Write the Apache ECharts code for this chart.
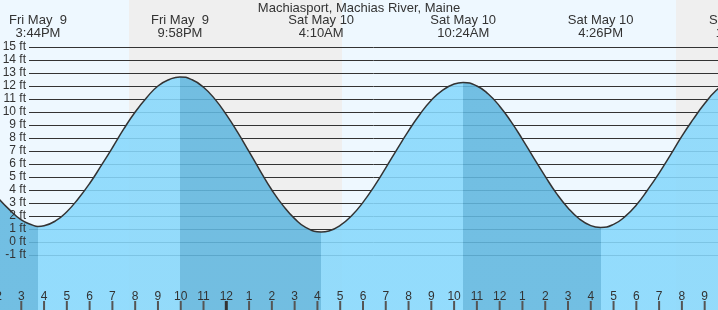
<!DOCTYPE html>
<html><head><meta charset="utf-8">
<script src="https://cdn.jsdelivr.net/npm/echarts@6/dist/echarts.min.js"></script>
<style>html,body{margin:0;padding:0;background:#eef8ff}#c{width:718px;height:310px}</style>
</head><body><div id="c"></div>
<script>
// ---- data ----
const chartTitle = 'Machiasport, Machias River, Maine';
// tide extremes
const eventDates   = ['Fri May  9', 'Fri May  9', 'Sat May 10', 'Sat May 10', 'Sat May 10', 'Sat May 10'];
const eventClocks  = ['3:44PM', '9:58PM', '4:10AM', '10:24AM', '4:26PM', '10:38PM'];
const eventDays    = [0, 0, 1, 1, 1, 1];            // day offset from Fri May 9
const eventTypes   = ['L', 'H', 'L', 'H', 'L', 'H'];
const eventHeights = [1.2, 12.7, 0.77, 12.27, 1.12, 12.7];
// half-hourly readings (hours since Fri May 9 00:00), feet
const readTimes = [14, 14.5, 15, 15.5, 16, 16.5, 17, 17.5, 18, 18.5, 19, 19.5, 20, 20.5, 21, 21.5,
  22.5, 23, 23.5, 24, 24.5, 25, 25.5, 26, 26.5, 27, 27.5,
  28.5, 29, 29.5, 30, 30.5, 31, 31.5, 32, 32.5, 33, 33.5, 34,
  35, 35.5, 36, 36.5, 37, 37.5, 38, 38.5, 39, 39.5, 40,
  41, 41.5, 42, 42.5, 43, 43.5, 44, 44.5, 45, 45.5, 46, 47];
const readHeights = [3.35, 2.45, 1.7, 1.3, 1.25, 1.62, 2.33, 3.33, 4.5, 5.85, 7.25, 8.7, 10.0, 11.1, 12.0, 12.5,
  12.48, 11.9, 10.99, 9.8, 8.43, 6.95, 5.44, 4.0, 2.78, 1.8, 1.11,
  0.85, 1.27, 2.02, 3.05, 4.3, 5.7, 7.15, 8.55, 9.83, 10.9, 11.69, 12.15,
  12.0, 11.38, 10.45, 9.26, 7.9, 6.45, 5.05, 3.72, 2.62, 1.77, 1.26,
  1.36, 1.95, 2.85, 4.02, 5.3, 6.7, 8.15, 9.45, 10.65, 11.65, 12.3, 12.6];
// night (sunset -> sunrise), hours since Fri May 9 00:00
const nightStarts = [19.73, 43.74];
const nightEnds   = [29.08, 48];
const midnights   = [24];
// axis ranges / ticks
const hourMin = 14, hourMax = 47;
const ftMin = -1, ftMax = 15;

// ---- layout / style ----
const FONT = "'Liberation Sans', Arial, sans-serif";
const TXT = '#333';
const bgDay = '#eef8ff', bgNight = '#efefef';
const waterFlood = '#87d8fc', waterEbb = '#61b7df';
const PX_PER_H = 22.78, X_MIDNIGHT = 226.3;
const PX_PER_FT = 13, Y_ZERO = 242, H = 310;
const TICK_LEN = 9;

function toHours(clock, day) {
  const m = clock.match(/(\d+):(\d+)(AM|PM)/);
  let h = (+m[1]) % 12;
  if (m[3] === 'PM') h += 12;
  return day * 24 + h + (+m[2]) / 60;
}
const evT = eventClocks.map((c, i) => toHours(c, eventDays[i]));
const pts = readTimes.map((t, i) => [t, readHeights[i]])
  .concat(evT.map((t, i) => [t, eventHeights[i]]))
  .sort((a, b) => a[0] - b[0]);

const pieces = [];
for (let i = 0; i <= evT.length; i++) {
  const ebb = i < evT.length ? eventTypes[i] === 'L' : eventTypes[i - 1] === 'H';
  const p = { color: ebb ? waterEbb : waterFlood };
  if (i > 0) p.gte = evT[i - 1];
  if (i < evT.length) p.lt = evT[i];
  pieces.push(p);
}
const hourTicks = [];
for (let t = hourMin; t <= hourMax; t++) hourTicks.push(t);

const g1Left = X_MIDNIGHT - (24 - hourMin) * PX_PER_H;
const g1Width = (hourMax - hourMin) * PX_PER_H;
const yMin = (Y_ZERO - H) / PX_PER_FT, yMax = Y_ZERO / PX_PER_FT;

const chart = echarts.init(document.getElementById('c'), null, { renderer: 'canvas' });
chart.setOption({
  animation: false,
  backgroundColor: bgDay,
  textStyle: { fontFamily: FONT },
  title: {
    text: chartTitle, left: 'center', top: 0, padding: [2, 0, 0, 0],
    textStyle: { fontSize: 13, fontWeight: 'normal', color: TXT, fontFamily: FONT }
  },
  grid: [
    { left: g1Left, width: g1Width, top: 0, height: H, outerBoundsMode: 'none', containLabel: false },
    { left: 29, right: 0, top: Y_ZERO - ftMax * PX_PER_FT, height: (ftMax - ftMin) * PX_PER_FT, outerBoundsMode: 'none', containLabel: false }
  ],
  xAxis: [
    { gridIndex: 0, type: 'value', position: 'bottom', min: hourMin, max: hourMax, interval: 1,
      axisLine: { show: false, onZero: false }, splitLine: { show: false }, axisTick: { show: false },
      axisLabel: { inside: true, margin: 7, color: TXT, fontSize: 12, fontFamily: FONT,
        formatter: v => String((v % 12) || 12) }, z: 5 },
    { gridIndex: 0, type: 'value', position: 'top', min: hourMin, max: hourMax,
      axisLine: { show: false, onZero: false }, axisTick: { show: false }, splitLine: { show: false },
      axisLabel: { inside: true, margin: 14, customValues: evT, color: TXT, fontSize: 13, lineHeight: 13, fontFamily: FONT,
        formatter: v => {
          let k = 0;
          evT.forEach((t, i) => { if (Math.abs(t - v) < Math.abs(evT[k] - v)) k = i; });
          return eventDates[k] + '\n' + eventClocks[k];
        } }, z: 5 },
    { gridIndex: 1, type: 'value', show: false, min: hourMin, max: hourMax, axisLine: { onZero: false } }
  ],
  yAxis: [
    { gridIndex: 0, type: 'value', show: false, min: yMin, max: yMax },
    { gridIndex: 1, type: 'value', position: 'left', min: ftMin, max: ftMax, interval: 1,
      axisLine: { show: false }, axisTick: { show: false }, axisLabel: { show: false },
      splitLine: { show: true, lineStyle: { color: TXT, width: 1 } }, z: 1 },
    { gridIndex: 1, type: 'value', position: 'left', min: ftMin, max: ftMax, interval: 1,
      axisLine: { show: false }, axisTick: { show: false }, splitLine: { show: false },
      axisLabel: { margin: 3, color: TXT, fontSize: 12, fontFamily: FONT, formatter: v => v + ' ft' }, z: 5 }
  ],
  visualMap: { type: 'piecewise', show: false, dimension: 0, seriesIndex: 1, pieces: pieces },
  series: [
    { type: 'line', xAxisIndex: 0, yAxisIndex: 0, data: [[hourMin, 0]], symbol: 'none',
      lineStyle: { opacity: 0 }, silent: true, z: 0,
      markArea: { z: 0, silent: true, itemStyle: { color: bgNight }, label: { show: false },
        data: nightStarts.map((s, i) => [{ xAxis: s }, { xAxis: nightEnds[i] }]) } },
    { type: 'line', xAxisIndex: 0, yAxisIndex: 0, data: pts, smooth: 0.5, showSymbol: false, symbol: 'none',
      lineStyle: { color: TXT, width: 1.5 }, areaStyle: { origin: 'start', opacity: 0.88 }, z: 2, silent: true },
    { type: 'custom', xAxisIndex: 0, yAxisIndex: 0, data: hourTicks.map(t => [t, ftMin]), z: 10, silent: true, clip: false,
      renderItem: (params, api) => {
        const t = api.value(0);
        const p = api.coord([t, yMin]);
        const thick = midnights.indexOf(t) >= 0;
        const w = thick ? 3 : 2;
        return { type: 'rect', z2: 100,
          shape: { x: p[0] - w / 2, y: p[1] - TICK_LEN, width: w, height: TICK_LEN },
          style: { fill: thick ? TXT : '#555', opacity: 1 } };
      } }
  ]
});
</script></body></html>
